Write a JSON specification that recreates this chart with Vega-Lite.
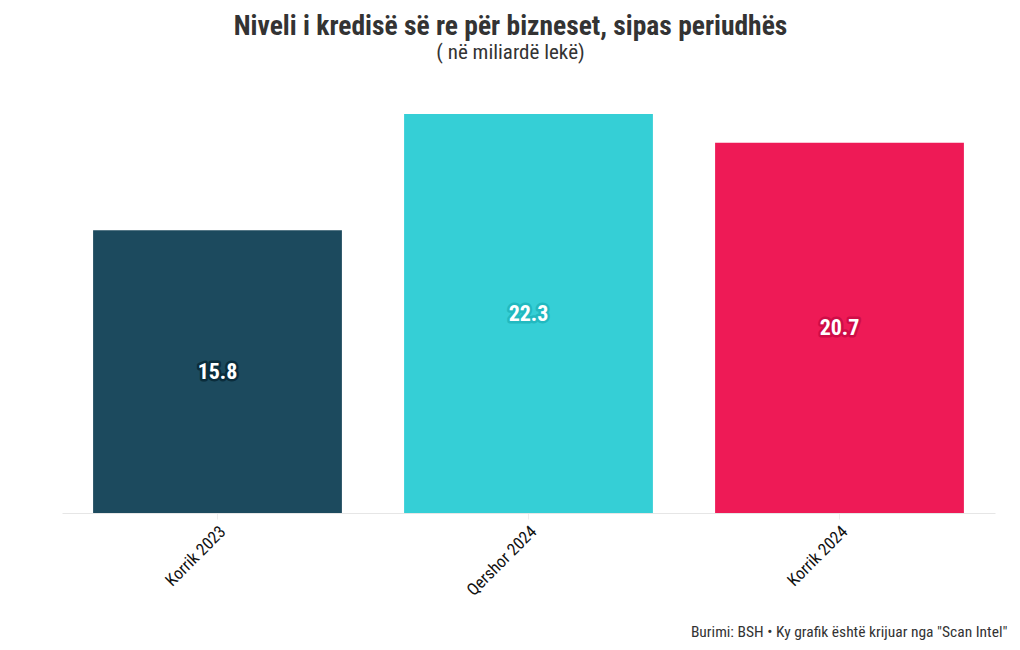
{
  "$schema": "https://vega.github.io/schema/vega-lite/v6.json",
  "width": 933,
  "height": 399,
  "autosize": {"type": "none"},
  "padding": {"left": 62, "top": 114, "right": 25, "bottom": 137},
  "background": "white",
  "config": {"view": {"stroke": null}},
  "title": {
    "text": "Niveli i kredisë së re për bizneset, sipas periudhës",
    "subtitle": "( në miliardë lekë)",
    "anchor": "middle",
    "dx": -18,
    "font": "Roboto Condensed, Liberation Sans Narrow, Roboto",
    "fontSize": 27.5,
    "fontWeight": "bold",
    "color": "#333333",
    "subtitleFont": "Roboto Condensed, Liberation Sans Narrow, Roboto",
    "subtitleFontSize": 21,
    "subtitleColor": "#333333",
    "subtitlePadding": 2,
    "offset": 51
  },
  "data": {
    "values": [
      {"periudha": "Korrik 2023", "vlera": 15.8},
      {"periudha": "Qershor 2024", "vlera": 22.3},
      {"periudha": "Korrik 2024", "vlera": 20.7}
    ]
  },
  "encoding": {
    "x": {
      "field": "periudha",
      "type": "nominal",
      "sort": null,
      "scale": {"paddingInner": 0.2, "paddingOuter": 0.1},
      "axis": {
        "title": "Burimi: BSH • Ky grafik është krijuar nga \"Scan Intel\"",
        "titleAnchor": "end",
        "titleAlign": "right",
        "titleX": 945,
        "titleY": 123,
        "titleBaseline": "alphabetic",
        "titleFont": "Roboto Condensed, Liberation Sans Narrow, Roboto",
        "titleFontSize": 15.5,
        "titleFontWeight": "normal",
        "titleColor": "#333333",
        "labelAngle": -45,
        "labelFont": "Roboto Condensed, Liberation Sans Narrow, Roboto",
        "labelFontSize": 17,
        "labelColor": "#111111",
        "labelPadding": 4,
        "domainColor": "#e6e6e6",
        "tickColor": "#eeeeee",
        "tickSize": 6
      }
    }
  },
  "resolve": {"scale": {"y": "independent"}},
  "layer": [
    {
      "mark": {"type": "bar"},
      "encoding": {
        "y": {
          "field": "vlera",
          "type": "quantitative",
          "scale": {"domain": [0, 22.3], "nice": false},
          "axis": null
        },
        "fill": {
          "field": "periudha",
          "type": "nominal",
          "sort": null,
          "scale": {"domain": ["Korrik 2023", "Qershor 2024", "Korrik 2024"], "range": ["#1c4a5e", "#35cfd6", "#ee1a56"]},
          "legend": null
        }
      }
    },
    {
      "encoding": {
        "y": {
          "field": "vlera",
          "type": "quantitative",
          "scale": {"domain": [0, 44.6], "nice": false},
          "axis": null
        },
        "text": {"field": "vlera", "type": "quantitative", "format": ".1f"}
      },
      "layer": [
        {
          "mark": {"type": "text", "fontSize": 22, "fontWeight": "bold", "font": "Roboto Condensed, Liberation Sans Narrow, Roboto", "baseline": "middle", "strokeWidth": 5, "strokeJoin": "round", "fill": "white"},
          "encoding": {
            "stroke": {
              "field": "periudha",
              "type": "nominal",
              "sort": null,
              "scale": {"domain": ["Korrik 2023", "Qershor 2024", "Korrik 2024"], "range": ["#0b2d3c", "#22b9c0", "#cf0d47"]},
              "legend": null
            }
          }
        },
        {
          "mark": {"type": "text", "fontSize": 22, "fontWeight": "bold", "font": "Roboto Condensed, Liberation Sans Narrow, Roboto", "baseline": "middle", "fill": "white"}
        }
      ]
    }
  ]
}
